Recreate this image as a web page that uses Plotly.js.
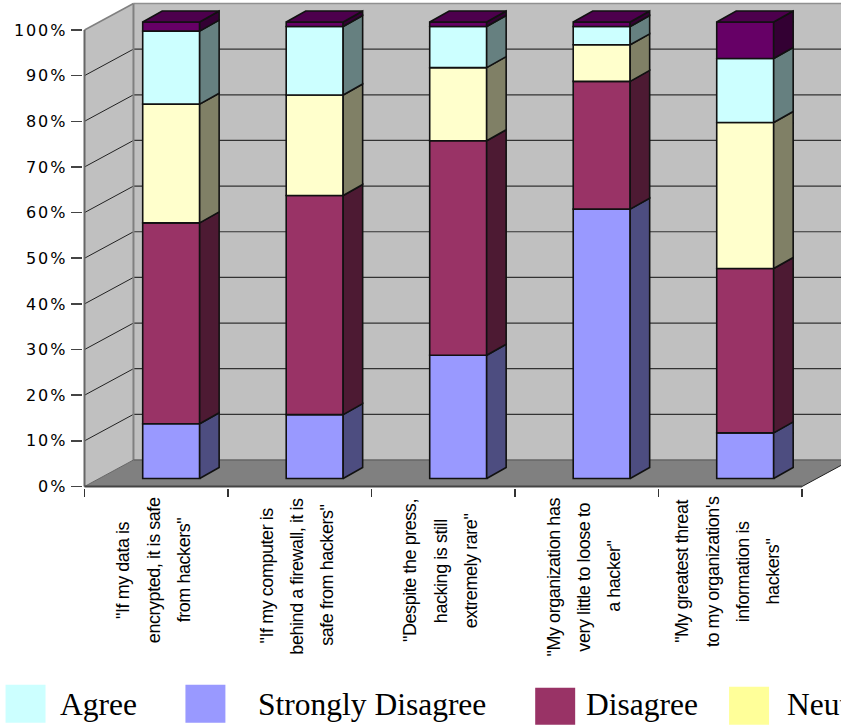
<!DOCTYPE html>
<html>
<head>
<meta charset="utf-8">
<script src="https://cdn.plot.ly/plotly-3.0.1.min.js"></script>
<style>
  html, body { margin: 0; padding: 0; background: #fff; overflow: hidden; }
  /* Tight category captions, wide percentage labels */
  text[style*="Liberation Sans"] { letter-spacing: -0.45px; }
  .ytick text { letter-spacing: 1.9px; }
</style>
</head>
<body>
<div id="chart" style="width:841px;height:725px"></div>
<script>
// Survey responses, percent of respondents per statement
const stronglyDisagree = [12, 14, 27, 59, 10];
const disagree         = [44, 48, 47, 28, 36];
const neutral          = [26, 22, 16,  8, 32];
const agree            = [16, 15,  9,  4, 14];
const stronglyAgree    = [ 2,  1,  1,  1,  8];

const seriesNames  = ['Strongly Disagree', 'Disagree', 'Neutral', 'Agree', 'Strongly Agree'];
const seriesValues = [stronglyDisagree, disagree, neutral, agree, stronglyAgree];
const frontColors  = ['#9999FF', '#993366', '#FFFFCC', '#CCFFFF', '#660066'];
const sideColors   = ['#4D4D80', '#4D1A33', '#808066', '#668080', '#330033'];
const topColor     = '#4D004D';

const percentTicks = [0, 10, 20, 30, 40, 50, 60, 70, 80, 90, 100];
const categoryEdges = [0, 1, 2, 3, 4, 5];

const statementLines = [
  ['"If my data is', 'encrypted, it is safe', 'from hackers"'],
  ['"If my computer is', 'behind a firewall, it is', 'safe from hackers"'],
  ['"Despite the press,', 'hacking is still', 'extremely rare"'],
  ['"My organization has', 'very little to loose to', 'a hacker"'],
  ['"My greatest threat', "to my organization's", 'information is', 'hackers"']
];
const statementMiddle = [570, 576, 571, 577, 572];

const legendNames   = ['Agree', 'Strongly Disagree', 'Disagree', 'Neutral'];
const legendSwatch  = ['#CCFFFF', '#9999FF', '#993366', '#FFFF99'];
const legendSwatchX = [5, 185, 535, 729];
const legendSwatchTop = [685, 685, 688, 687];
const legendSwatchBottom = [723, 723, 725, 725];
const legendTextX   = [58.5, 257, 585, 786];

// Pixel frame of the plot area
const W = 841, H = 725;
const left = 82.5, bottom = 488.2;
const unitX = 143.6, unitY = 4.567;

// Oblique projection offsets, in axis units
const wallDX = 49 / unitX, wallDY = 26.5 / unitY;
const barDX = 19.5 / unitX, barDY = 11 / unitY;
const barWidth = 57 / unitX;
const barCentre = 0.604, barLift = 1.75;

const xRange = [-1.5 / unitX, (W - 84) / unitX];
const yRange = [-1.5 / unitY, 486.7 / unitY];

const barX = categoryEdges.slice(0, 5).map(e => e + barCentre);
const runningBase = stronglyDisagree.map(() => barLift);

const traces = [];
const sideTraces = [];

seriesNames.forEach((name, s) => {
  const base = runningBase.slice();
  const vals = seriesValues[s];
  traces.push({
    type: 'bar', name, x: barX, y: vals, base, width: barWidth,
    marker: { color: frontColors[s], line: { color: '#111', width: 1.6 } },
    showlegend: false, hoverinfo: 'y+name'
  });
  const sx = [], sy = [];
  barX.forEach((cx, i) => {
    const r = cx + barWidth / 2, lo = base[i], hi = base[i] + vals[i];
    sx.push(r, r + barDX, r + barDX, r, r, null);
    sy.push(lo, lo + barDY, hi + barDY, hi, lo, null);
    runningBase[i] = hi;
  });
  sideTraces.push({
    type: 'scatter', mode: 'lines', x: sx, y: sy, fill: 'toself',
    fillcolor: sideColors[s], line: { color: '#111', width: 1.6 },
    showlegend: false, hoverinfo: 'skip'
  });
});

// Top caps of the stacks
const capX = [], capY = [];
barX.forEach((cx, i) => {
  const l = cx - barWidth / 2, r = cx + barWidth / 2, t = runningBase[i];
  capX.push(l, l + barDX, r + barDX, r, l, null);
  capY.push(t, t + barDY, t + barDY, t, t, null);
});
sideTraces.push({
  type: 'scatter', mode: 'lines', x: capX, y: capY, fill: 'toself',
  fillcolor: topColor, line: { color: '#111', width: 1.6 },
  showlegend: false, hoverinfo: 'skip'
});

// Walls, floor and gridlines sit beneath the bars
const farX = xRange[1] + 1;
const poly = pts => 'M' + pts.map(p => p.join(',')).join('L') + 'Z';
const shapes = [
  { type: 'path', path: poly([[wallDX, wallDY], [farX, wallDY], [farX, 100 + wallDY], [wallDX, 100 + wallDY]]),
    fillcolor: '#C0C0C0', line: { width: 0 } },
  { type: 'path', path: poly([[0, 0], [wallDX, wallDY], [wallDX, 100 + wallDY], [0, 100]]),
    fillcolor: '#C0C0C0', line: { width: 0 } },
  { type: 'path', path: poly([[0, 0], [wallDX, wallDY], [5 + wallDX, wallDY], [5, 0]]),
    fillcolor: '#808080', line: { width: 0 } }
];
const seg = (x0, y0, x1, y1, color, width) => ({
  type: 'line', x0, y0, x1, y1, line: { color, width }
});
percentTicks.slice(1).forEach(t => {
  if (t < 100) {
    shapes.push(seg(0, t, wallDX, t + wallDY, '#222', 1));
    shapes.push(seg(wallDX, t + wallDY, farX, t + wallDY, '#333', 1.2));
  }
});
shapes.push(seg(0, 100, wallDX, 100 + wallDY, '#808080', 1.5));
shapes.push(seg(wallDX, 100 + wallDY, farX, 100 + wallDY, '#909090', 1.5));
shapes.push(seg(wallDX, wallDY, wallDX, 100 + wallDY, '#808080', 2));
shapes.push(seg(wallDX, wallDY, 5 + wallDX, wallDY, '#666', 1.5));
shapes.push(seg(0, 0, wallDX, wallDY, '#666', 1));
shapes.push(seg(5, 0, 5 + wallDX, wallDY, '#222', 1));
shapes.push(seg(0, 0, 0, 100, '#666', 2));
shapes.push(seg(0, 0, 5, 0, '#444', 1.8));
shapes.forEach(s => { s.xref = 'x'; s.yref = 'y'; s.layer = 'below'; });

// Pixel to paper conversion for items outside the plot area
const plotW = W - left, plotH = bottom;
const paperX = px => (px - left) / plotW;
const paperY = py => (bottom - py) / plotH;

const annotations = [];
statementLines.forEach((lines, c) => {
  lines.forEach((text, n) => {
    annotations.push({
      text, xref: 'x', yref: 'paper', x: c + 0.48, y: paperY(statementMiddle[c]),
      xshift: (n - (lines.length - 1) / 2) * 30.2,
      textangle: -90, showarrow: false, xanchor: 'center', yanchor: 'middle',
      font: { family: '"Liberation Sans", Arial, sans-serif', size: 18, color: '#000' }
    });
  });
});

legendNames.forEach((text, i) => {
  shapes.push({
    type: 'rect', xref: 'paper', yref: 'paper',
    x0: paperX(legendSwatchX[i]), x1: paperX(legendSwatchX[i] + 40),
    y0: paperY(legendSwatchBottom[i]), y1: paperY(legendSwatchTop[i]),
    fillcolor: legendSwatch[i], line: { width: 0 }, layer: 'above'
  });
  annotations.push({
    text, xref: 'paper', yref: 'paper',
    x: paperX(legendTextX[i]), y: paperY(705),
    xanchor: 'left', yanchor: 'middle', showarrow: false, borderpad: 0,
    font: { family: '"Liberation Serif", "Times New Roman", serif', size: 31.5, color: '#000' }
  });
});

const layout = {
  width: W, height: H, autosize: false,
  paper_bgcolor: '#fff', plot_bgcolor: 'rgba(0,0,0,0)',
  margin: { l: left, r: 0, t: 0, b: H - bottom, pad: 0 },
  showlegend: false, barmode: 'overlay',
  xaxis: {
    range: xRange, tickmode: 'array', tickvals: categoryEdges,
    showticklabels: false, showgrid: false, zeroline: false, showline: false,
    ticks: 'outside', ticklen: 8, tickcolor: '#333', tickwidth: 1.5, fixedrange: true
  },
  yaxis: {
    range: yRange, tickmode: 'array', tickvals: percentTicks,
    ticktext: percentTicks.map(t => t + '%'),
    showgrid: false, zeroline: false, showline: false,
    ticks: 'outside', ticklen: 11.5, tickcolor: '#444', tickwidth: 1.5,
    tickfont: { family: '"DejaVu Sans", Verdana, sans-serif', size: 16, color: '#000' },
    fixedrange: true
  },
  shapes, annotations
};

Plotly.newPlot('chart', traces.concat(sideTraces), layout, { displayModeBar: false, staticPlot: true });
</script>
</body>
</html>
